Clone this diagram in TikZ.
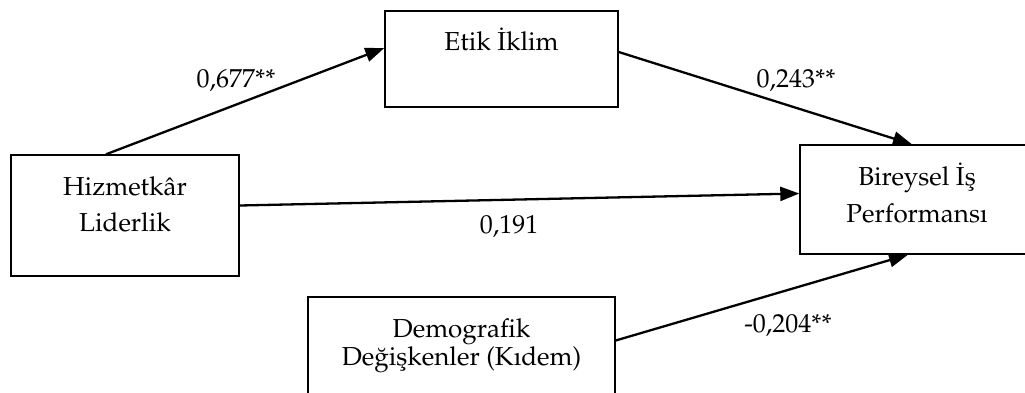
\documentclass[tikz,border=0pt]{standalone}
\usepackage[T1]{fontenc}
\usepackage{mathpazo}
\usetikzlibrary{arrows.meta}
\tikzset{
  boxshape/.style={draw, line width=1.4pt, inner sep=0pt},
  txt/.style={anchor=base, inner sep=0pt, font=\fontsize{26}{30}\selectfont},
  conn/.style={line width=2.3pt, -{Triangle[length=19pt,width=14pt]}},
}
\begin{document}
\begin{tikzpicture}[x=1pt,y=-1pt]
\useasboundingbox (0,0) rectangle (1025,392);
\clip (0,0) rectangle (1025,392);
% boxes
\node[boxshape, minimum width=233pt, minimum height=96pt] (etik) at (501.5,59) {};
\node[boxshape, minimum width=228pt, minimum height=121pt] (hiz) at (125,215.5) {};
\node[boxshape, minimum width=234pt, minimum height=109pt] (bir) at (917,199.5) {};
\node[boxshape, minimum width=307pt, minimum height=123pt] (demo) at (461.5,358.5) {};
% texts
\node[txt] (t1) at (501.5,50) {Etik \.Iklim};
\node[txt] (t2) at (125,195) {Hizmetk\^ar};
\node[txt] (t3) at (125,231) {Liderlik};
\node[txt] (t4) at (917,185) {Bireysel \.I\c{s}};
\node[txt] (t5) at (917,222) {Performans\i};
\node[txt] (t6) at (461.5,337) {Demografik};
\node[txt] (t7) at (461.5,365) {De\u{g}i\c{s}kenler (K\i dem)};
% connectors
\draw[conn] ([xshift=-19pt]hiz.north) -- ([yshift=11pt]etik.west);
\draw[conn] ([yshift=7pt]etik.east) -- ([xshift=-5pt]bir.north);
\draw[conn] ([yshift=10pt]hiz.east) -- ([yshift=6pt]bir.west);
\draw[conn] ([yshift=18pt]demo.east) -- ([xshift=-9pt]bir.south);
% labels
\node[txt] (l1) at (236,87) {0,677**};
\node[txt] (l2) at (796,87) {0,243**};
\node[txt] (l3) at (509,233) {0,191};
\node[txt] (l4) at (788,332) {-0,204**};
\end{tikzpicture}
\end{document}
